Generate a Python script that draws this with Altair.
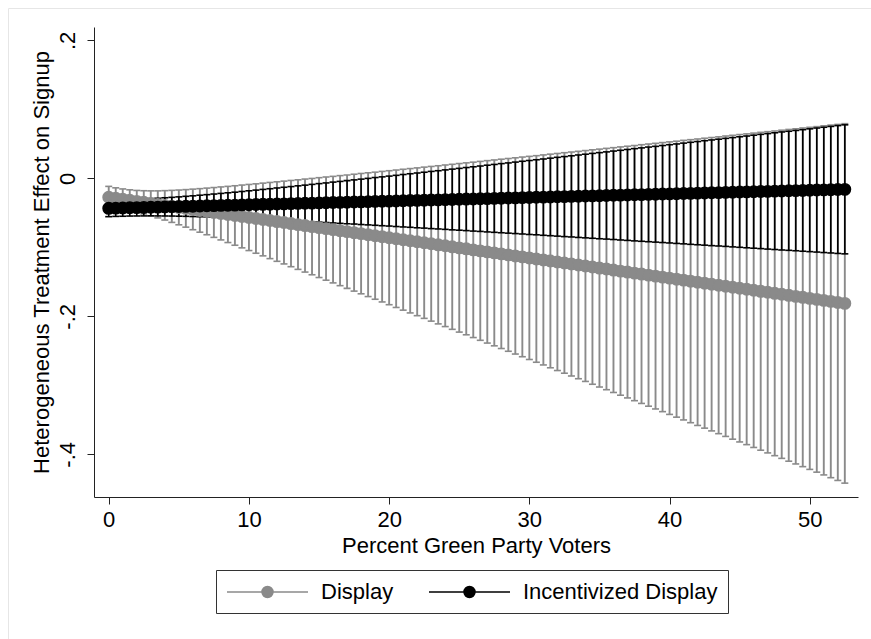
import altair as alt
import pandas as pd

# Evaluation grid: percent of Green Party voters
pct = [0, 0.5, 1, 1.5, 2, 2.5, 3, 3.5, 4, 4.5, 5, 5.5, 6, 6.5, 7, 7.5, 8, 8.5, 9, 9.5,
       10, 10.5, 11, 11.5, 12, 12.5, 13, 13.5, 14, 14.5, 15, 15.5, 16, 16.5, 17, 17.5, 18, 18.5, 19, 19.5,
       20, 20.5, 21, 21.5, 22, 22.5, 23, 23.5, 24, 24.5, 25, 25.5, 26, 26.5, 27, 27.5, 28, 28.5, 29, 29.5,
       30, 30.5, 31, 31.5, 32, 32.5, 33, 33.5, 34, 34.5, 35, 35.5, 36, 36.5, 37, 37.5, 38, 38.5, 39, 39.5,
       40, 40.5, 41, 41.5, 42, 42.5, 43, 43.5, 44, 44.5, 45, 45.5, 46, 46.5, 47, 47.5, 48, 48.5, 49, 49.5,
       50, 50.5, 51, 51.5, 52, 52.5]

# Display: marginal effect and 95% CI
display_est = [
    -0.0275, -0.0290, -0.0304, -0.0319, -0.0334, -0.0348, -0.0363, -0.0378, -0.0392, -0.0407,
    -0.0422, -0.0436, -0.0451, -0.0466, -0.0480, -0.0495, -0.0509, -0.0524, -0.0539, -0.0553,
    -0.0568, -0.0583, -0.0597, -0.0612, -0.0627, -0.0641, -0.0656, -0.0671, -0.0685, -0.0700,
    -0.0715, -0.0729, -0.0744, -0.0759, -0.0773, -0.0788, -0.0802, -0.0817, -0.0832, -0.0846,
    -0.0861, -0.0876, -0.0890, -0.0905, -0.0920, -0.0934, -0.0949, -0.0964, -0.0978, -0.0993,
    -0.1008, -0.1022, -0.1037, -0.1052, -0.1066, -0.1081, -0.1095, -0.1110, -0.1125, -0.1139,
    -0.1154, -0.1169, -0.1183, -0.1198, -0.1213, -0.1227, -0.1242, -0.1257, -0.1271, -0.1286,
    -0.1301, -0.1315, -0.1330, -0.1345, -0.1359, -0.1374, -0.1388, -0.1403, -0.1418, -0.1432,
    -0.1447, -0.1462, -0.1476, -0.1491, -0.1506, -0.1520, -0.1535, -0.1550, -0.1564, -0.1579,
    -0.1594, -0.1608, -0.1623, -0.1638, -0.1652, -0.1667, -0.1681, -0.1696, -0.1711, -0.1725,
    -0.1740, -0.1755, -0.1769, -0.1784, -0.1799, -0.1813]
display_lo = [
    -0.0433, -0.0442, -0.0454, -0.0471, -0.0492, -0.0516, -0.0544, -0.0574, -0.0605, -0.0639,
    -0.0674, -0.0708, -0.0745, -0.0781, -0.0818, -0.0856, -0.0893, -0.0931, -0.0970, -0.1008,
    -0.1047, -0.1086, -0.1124, -0.1164, -0.1203, -0.1241, -0.1281, -0.1320, -0.1359, -0.1398,
    -0.1438, -0.1477, -0.1516, -0.1556, -0.1595, -0.1635, -0.1674, -0.1714, -0.1753, -0.1792,
    -0.1832, -0.1872, -0.1911, -0.1951, -0.1991, -0.2030, -0.2070, -0.2110, -0.2149, -0.2189,
    -0.2229, -0.2268, -0.2308, -0.2348, -0.2388, -0.2428, -0.2467, -0.2507, -0.2547, -0.2586,
    -0.2626, -0.2666, -0.2705, -0.2746, -0.2786, -0.2825, -0.2865, -0.2905, -0.2944, -0.2985,
    -0.3025, -0.3064, -0.3104, -0.3144, -0.3183, -0.3223, -0.3263, -0.3303, -0.3343, -0.3382,
    -0.3422, -0.3462, -0.3502, -0.3542, -0.3582, -0.3621, -0.3661, -0.3701, -0.3741, -0.3781,
    -0.3821, -0.3860, -0.3901, -0.3941, -0.3980, -0.4020, -0.4059, -0.4100, -0.4140, -0.4179,
    -0.4219, -0.4259, -0.4299, -0.4339, -0.4379, -0.4418]
display_hi = [
    -0.0117, -0.0138, -0.0154, -0.0167, -0.0176, -0.0180, -0.0182, -0.0182, -0.0179, -0.0175,
    -0.0170, -0.0164, -0.0157, -0.0150, -0.0142, -0.0134, -0.0125, -0.0117, -0.0108, -0.0098,
    -0.0089, -0.0080, -0.0070, -0.0060, -0.0051, -0.0041, -0.0031, -0.0022, -0.0011, -0.0002,
    0.0009, 0.0019, 0.0028, 0.0039, 0.0049, 0.0059, 0.0070, 0.0080, 0.0089, 0.0100,
    0.0110, 0.0120, 0.0131, 0.0141, 0.0151, 0.0162, 0.0172, 0.0182, 0.0193, 0.0203,
    0.0214, 0.0224, 0.0234, 0.0245, 0.0256, 0.0266, 0.0277, 0.0287, 0.0297, 0.0308,
    0.0318, 0.0328, 0.0339, 0.0350, 0.0360, 0.0371, 0.0381, 0.0391, 0.0402, 0.0413,
    0.0423, 0.0434, 0.0444, 0.0455, 0.0465, 0.0475, 0.0487, 0.0497, 0.0507, 0.0518,
    0.0528, 0.0538, 0.0550, 0.0560, 0.0570, 0.0581, 0.0591, 0.0601, 0.0613, 0.0623,
    0.0634, 0.0644, 0.0655, 0.0666, 0.0676, 0.0686, 0.0697, 0.0708, 0.0718, 0.0729,
    0.0739, 0.0749, 0.0761, 0.0771, 0.0781, 0.0792]

# Incentivized Display: marginal effect and 95% CI
incent_est = [
    -0.0435, -0.0432, -0.0430, -0.0427, -0.0425, -0.0422, -0.0419, -0.0417, -0.0414, -0.0411,
    -0.0409, -0.0406, -0.0404, -0.0401, -0.0398, -0.0396, -0.0393, -0.0391, -0.0388, -0.0385,
    -0.0383, -0.0380, -0.0377, -0.0375, -0.0372, -0.0370, -0.0367, -0.0364, -0.0362, -0.0359,
    -0.0356, -0.0354, -0.0351, -0.0349, -0.0346, -0.0343, -0.0341, -0.0338, -0.0335, -0.0333,
    -0.0330, -0.0328, -0.0325, -0.0322, -0.0320, -0.0317, -0.0315, -0.0312, -0.0309, -0.0307,
    -0.0304, -0.0301, -0.0299, -0.0296, -0.0294, -0.0291, -0.0288, -0.0286, -0.0283, -0.0280,
    -0.0278, -0.0275, -0.0273, -0.0270, -0.0267, -0.0265, -0.0262, -0.0260, -0.0257, -0.0254,
    -0.0252, -0.0249, -0.0246, -0.0244, -0.0241, -0.0239, -0.0236, -0.0233, -0.0231, -0.0228,
    -0.0225, -0.0223, -0.0220, -0.0218, -0.0215, -0.0212, -0.0210, -0.0207, -0.0204, -0.0202,
    -0.0199, -0.0197, -0.0194, -0.0191, -0.0189, -0.0186, -0.0184, -0.0181, -0.0178, -0.0176,
    -0.0173, -0.0170, -0.0168, -0.0165, -0.0163, -0.0160]
incent_lo = [
    -0.0556, -0.0552, -0.0550, -0.0547, -0.0546, -0.0545, -0.0544, -0.0545, -0.0546, -0.0547,
    -0.0549, -0.0551, -0.0554, -0.0557, -0.0560, -0.0563, -0.0567, -0.0571, -0.0575, -0.0580,
    -0.0584, -0.0589, -0.0594, -0.0599, -0.0604, -0.0609, -0.0614, -0.0619, -0.0625, -0.0630,
    -0.0635, -0.0641, -0.0647, -0.0653, -0.0658, -0.0663, -0.0670, -0.0675, -0.0681, -0.0687,
    -0.0692, -0.0699, -0.0705, -0.0710, -0.0717, -0.0722, -0.0729, -0.0734, -0.0740, -0.0747,
    -0.0752, -0.0758, -0.0765, -0.0770, -0.0777, -0.0783, -0.0789, -0.0795, -0.0801, -0.0807,
    -0.0814, -0.0819, -0.0826, -0.0832, -0.0838, -0.0845, -0.0850, -0.0857, -0.0863, -0.0869,
    -0.0876, -0.0881, -0.0887, -0.0894, -0.0900, -0.0907, -0.0913, -0.0919, -0.0925, -0.0931,
    -0.0937, -0.0944, -0.0950, -0.0957, -0.0963, -0.0969, -0.0976, -0.0981, -0.0987, -0.0994,
    -0.1000, -0.1007, -0.1013, -0.1019, -0.1026, -0.1032, -0.1039, -0.1044, -0.1050, -0.1057,
    -0.1063, -0.1069, -0.1076, -0.1082, -0.1089, -0.1095]
incent_hi = [
    -0.0314, -0.0312, -0.0310, -0.0307, -0.0303, -0.0299, -0.0294, -0.0289, -0.0282, -0.0276,
    -0.0269, -0.0261, -0.0254, -0.0245, -0.0237, -0.0228, -0.0219, -0.0210, -0.0201, -0.0191,
    -0.0181, -0.0171, -0.0161, -0.0151, -0.0140, -0.0130, -0.0120, -0.0109, -0.0099, -0.0088,
    -0.0077, -0.0067, -0.0055, -0.0045, -0.0034, -0.0023, -0.0012, -0.0001, 0.0011, 0.0021,
    0.0032, 0.0043, 0.0055, 0.0066, 0.0077, 0.0088, 0.0100, 0.0110, 0.0122, 0.0133,
    0.0144, 0.0156, 0.0167, 0.0178, 0.0190, 0.0201, 0.0213, 0.0223, 0.0235, 0.0247,
    0.0258, 0.0269, 0.0280, 0.0292, 0.0304, 0.0315, 0.0326, 0.0338, 0.0349, 0.0361,
    0.0372, 0.0383, 0.0395, 0.0406, 0.0418, 0.0430, 0.0441, 0.0453, 0.0463, 0.0475,
    0.0487, 0.0498, 0.0510, 0.0522, 0.0533, 0.0545, 0.0556, 0.0567, 0.0579, 0.0590,
    0.0602, 0.0613, 0.0625, 0.0637, 0.0648, 0.0660, 0.0672, 0.0682, 0.0694, 0.0705,
    0.0717, 0.0729, 0.0740, 0.0752, 0.0764, 0.0775]

series_names = ["Display", "Incentivized Display"]
series_colors = ["#8a8a8a", "#000000"]
x_ticks = [0, 10, 20, 30, 40, 50]
y_ticks = [-0.4, -0.2, 0, 0.2]

frames = []
for name, est, lo, hi in [
    (series_names[0], display_est, display_lo, display_hi),
    (series_names[1], incent_est, incent_lo, incent_hi),
]:
    frames.append(pd.DataFrame({"series": name, "pct": pct, "est": est, "lo": lo, "hi": hi}))
df = pd.concat(frames, ignore_index=True)

FONT = "Liberation Sans"
FS = 22

x_scale = alt.Scale(domain=[-1.05, 53.44], nice=False, zero=False)
y_scale = alt.Scale(domain=[-0.4619, 0.2193], nice=False, zero=False)

x_axis = alt.Axis(
    values=x_ticks, title="Percent Green Party Voters", grid=False,
    tickSize=7, labelPadding=5, titlePadding=5,
)
y_axis = alt.Axis(
    values=y_ticks, title="Heterogeneous Treatment Effect on Signup", grid=False,
    tickSize=7, labelPadding=8, titlePadding=3,
    labelAngle=270, labelAlign="center", labelBaseline="bottom",
    labelExpr="datum.value == 0 ? '0' : (datum.value < 0 ? '-' : '') + '.' + toString(round(abs(datum.value) * 10))",
)


def xq():
    return alt.X("pct:Q", scale=x_scale, axis=x_axis)


def yq(field):
    return alt.Y(f"{field}:Q", scale=y_scale, axis=y_axis)


base = alt.Chart(df)

# faint outer frame of the graph region
frame = alt.Chart(pd.DataFrame({"k": [0]})).mark_rect(
    fillOpacity=0, stroke="#e6e6e6", strokeWidth=1
).encode(
    x=alt.value(-85.5), x2=alt.value(900), y=alt.value(-18.5), y2=alt.value(700)
)

layers = [frame]
for name, color, bar_w in zip(series_names, series_colors, [1.9, 1.6]):
    sub = base.transform_filter(alt.datum.series == name)
    layers.append(sub.mark_rule(strokeWidth=bar_w, color=color).encode(x=xq(), y=yq("lo"), y2="hi"))
    layers.append(sub.mark_tick(orient="horizontal", size=7, thickness=1.6, color=color, opacity=1)
                  .encode(x=xq(), y=yq("lo")))
    layers.append(sub.mark_tick(orient="horizontal", size=7, thickness=1.6, color=color, opacity=1)
                  .encode(x=xq(), y=yq("hi")))

for name, color in zip(series_names, series_colors):
    sub = base.transform_filter(alt.datum.series == name)
    layers.append(sub.mark_line(strokeWidth=1.5, color=color).encode(x=xq(), y=yq("est")))

# legend key: a short line with a dot in its middle.  The key is drawn in units
# of 11 px (symbolSize 484) and reaches past its nominal box to the right, so
# the label offset makes room for it.
legend_symbol = (
    "M-1,0L6.364,0"
    "M2.182,0A0.5,0.5,0,1,1,3.182,0A0.5,0.5,0,1,1,2.182,0Z"
)
legend_spec = dict(
    title=None, orient="none", legendX=122, legendY=543, direction="horizontal",
    symbolType=legend_symbol, symbolSize=484, symbolStrokeWidth=1.5,
    labelFont=FONT, labelFontSize=FS, labelColor="#000", labelOffset=71, labelLimit=400,
    columnPadding=32, padding=10, strokeColor="#333", fillColor="#ffffff",
    symbolOpacity=1,
)
color_scale = alt.Scale(domain=series_names, range=series_colors)

points = base.mark_point(filled=True, size=130, opacity=1, shape="circle", strokeWidth=1.5).encode(
    x=xq(),
    y=yq("est"),
    fill=alt.Fill("series:N", scale=color_scale, sort=series_names, legend=alt.Legend(**legend_spec)),
    stroke=alt.Stroke("series:N", scale=color_scale, sort=series_names, legend=alt.Legend(**legend_spec)),
)
layers.append(points)

chart = alt.layer(*layers).properties(
    width=764, height=470,
    autosize=alt.AutoSizeParams(type="none"),
    padding={"left": 94, "top": 27, "right": 13, "bottom": 142},
    background="#ffffff",
).configure_view(stroke=None).configure_axis(
    labelFont=FONT, labelFontSize=FS, labelColor="#000",
    titleFont=FONT, titleFontSize=FS, titleColor="#000", titleFontWeight="normal",
    domainColor="#222", domainWidth=1, tickColor="#222", tickWidth=1,
)

chart.save("out.html", embed_options={"renderer": "svg", "actions": False})
